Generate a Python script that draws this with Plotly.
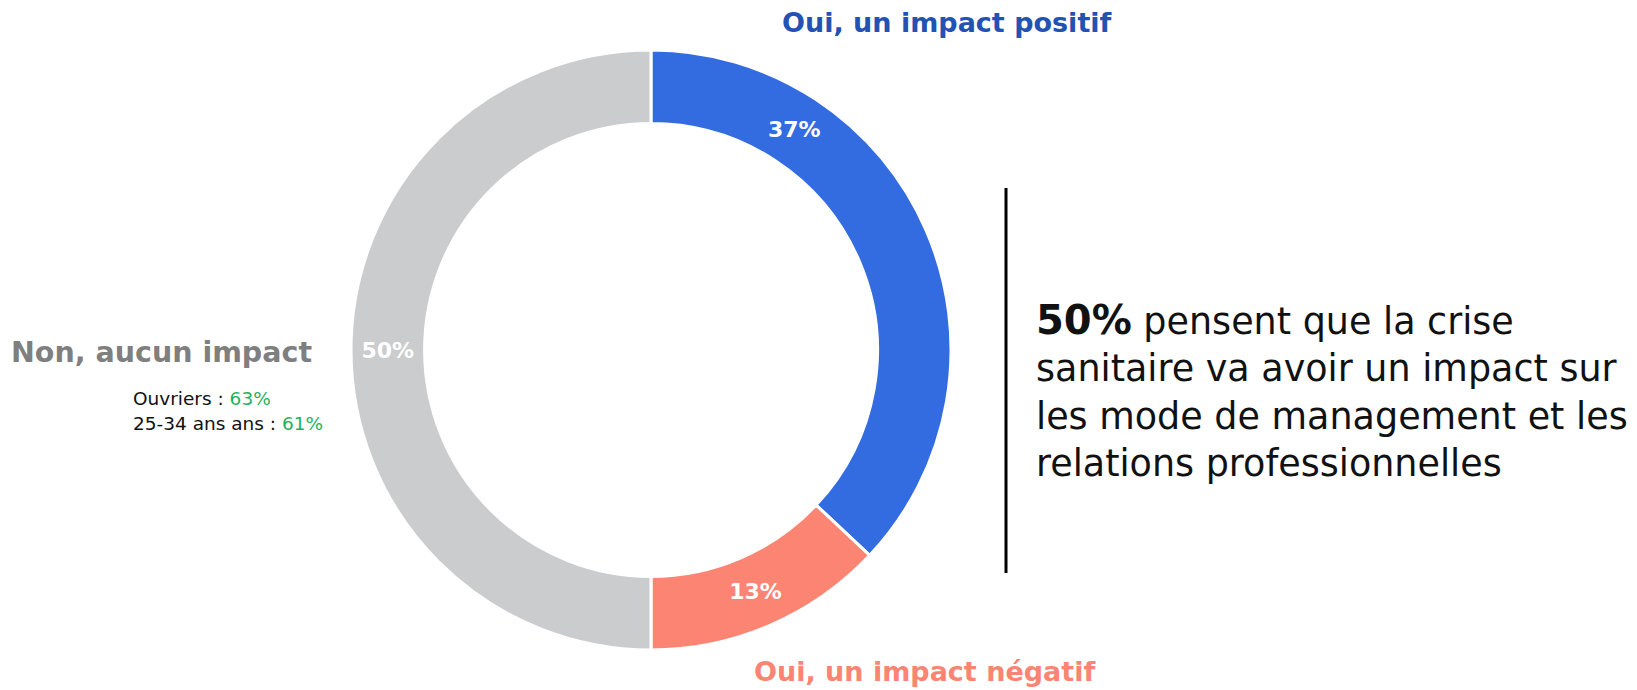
import math
import plotly.graph_objects as go

W, H = 1637, 690

labels = ["Oui, un impact positif", "Oui, un impact négatif", "Non, aucun impact"]
values = [37, 13, 50]
colors = ["#336ce0", "#fc8473", "#cbcccd"]
label_colors = ["#2352b5", "#fc8473", "#7f7f7f"]

sub_labels = ["Ouvriers", "25-34 ans ans"]
sub_values = [63, 61]
sub_color = "#1bb35b"

headline_value = 50
headline_text = ["pensent que la crise", "sanitaire va avoir un impact sur",
                 "les mode de management et les", "relations professionnelles"]

FONT = "DejaVu Sans"

cx, cy, R = 651, 350, 300
HOLE = 0.755


def px(x):
    return x / W


def py(y):
    return 1 - y / H


# slice texts: first slice label is drawn as a positioned annotation (as in the reference)
texts = ["", f"<b>{values[1]}%</b>", f"<b>{values[2]}%</b>"]

fig = go.Figure()
fig.add_trace(go.Pie(
    labels=labels,
    values=values,
    hole=HOLE,
    sort=False,
    direction="clockwise",
    rotation=0,
    marker=dict(colors=colors, line=dict(color="white", width=3)),
    text=texts,
    textinfo="text",
    textposition="inside",
    insidetextorientation="horizontal",
    textfont=dict(family=FONT, size=22, color="white"),
    showlegend=False,
    hoverinfo="label+percent",
    domain=dict(x=[px(cx - R), px(cx + R)], y=[py(cy + R), py(cy - R)]),
))

ann = []
# 37% label placed in the ring
r_mid = R * (1 + HOLE) / 2
ang = math.radians(33)
ann.append(dict(text=f"<b>{values[0]}%</b>", x=px(cx + r_mid * math.sin(ang)), y=py(cy - r_mid * math.cos(ang)),
                xanchor="center", yanchor="middle", font=dict(family=FONT, size=22, color="white")))

ann.append(dict(text=f"<b>{labels[0]}</b>", x=px(947), y=py(23), xanchor="center", yanchor="middle",
                font=dict(family=FONT, size=27, color=label_colors[0])))
ann.append(dict(text=f"<b>{labels[1]}</b>", x=px(925), y=py(671), xanchor="center", yanchor="middle",
                font=dict(family=FONT, size=27, color=label_colors[1])))
ann.append(dict(text=f"<b>{labels[2]}</b>", x=px(314), y=py(352), xanchor="right", yanchor="middle",
                font=dict(family=FONT, size=28.5, color=label_colors[2])))
for i, (l, v) in enumerate(zip(sub_labels, sub_values)):
    ann.append(dict(text=f"{l} : <span style='color:{sub_color}'>{v}%</span>", x=px(131), y=py(398 + 25 * i),
                    xanchor="left", yanchor="middle", align="left",
                    font=dict(family=FONT, size=18.5, color="#111111")))

body = f"<b><span style='font-size:40px'>{headline_value}%</span></b> " + "<br>".join(headline_text)
ann.append(dict(text=body, x=px(1034), y=py(391), xanchor="left", yanchor="middle", align="left",
                font=dict(family=FONT, size=36.5, color="#111111")))

for a in ann:
    a.update(xref="paper", yref="paper", showarrow=False)

fig.update_layout(
    width=W, height=H,
    margin=dict(l=0, r=0, t=0, b=0),
    paper_bgcolor="white", plot_bgcolor="white",
    annotations=ann,
    shapes=[dict(type="line", xref="paper", yref="paper", x0=px(1006), x1=px(1006),
                 y0=py(573), y1=py(188), line=dict(color="black", width=3))],
)

fig.write_html("out.html", config={"displayModeBar": False},
               post_script="document.body.style.margin='0';document.body.style.overflow='hidden';")
